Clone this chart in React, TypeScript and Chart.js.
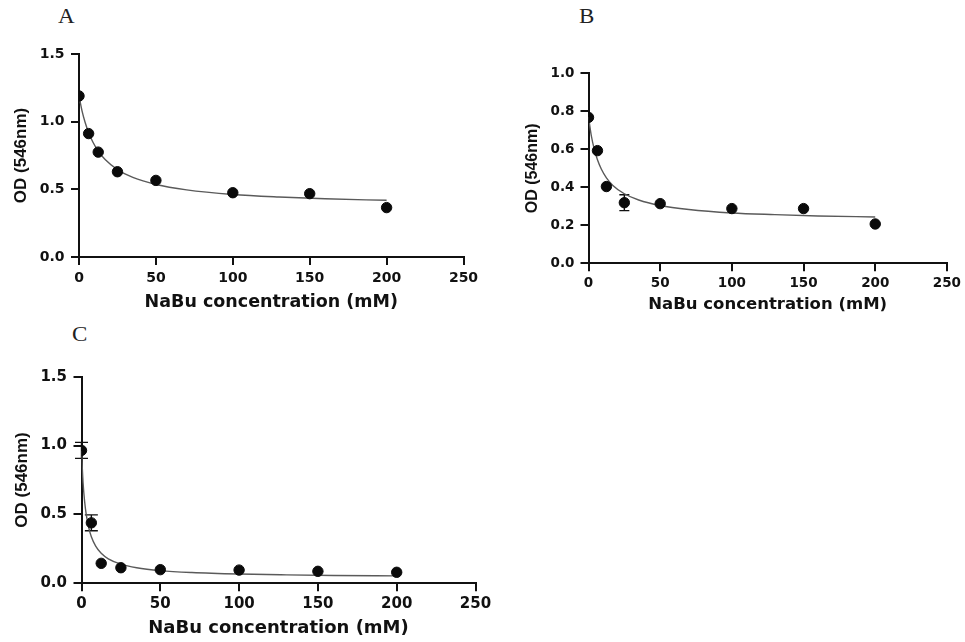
import React, { useEffect, useRef } from "react";
import { Chart, registerables } from "chart.js";

Chart.register(...registerables);

// Sodium butyrate concentrations (mM) tested in every assay
const concentrations = [0, 6.25, 12.5, 25, 50, 100, 150, 200];

// Mean optical density at 546 nm
const odA = [1.19, 0.912, 0.775, 0.63, 0.566, 0.475, 0.468, 0.365];
const odB = [0.768, 0.593, 0.404, 0.319, 0.314, 0.288, 0.288, 0.207];
const odC = [0.965, 0.439, 0.145, 0.113, 0.099, 0.096, 0.087, 0.08];

// Standard deviation (0 = bar hidden behind the marker)
const errA = [0, 0, 0, 0, 0, 0, 0, 0];
const errB = [0, 0, 0, 0.042, 0, 0, 0, 0];
const errC = [0.058, 0.058, 0, 0, 0, 0, 0, 0];

// Non-linear fit curves
const fitXAB = [0, 2, 4, 6.25, 9, 12.5, 17, 25, 35, 50, 70, 100, 130, 160, 200];
const fitA = [1.19, 1.078, 0.994, 0.92, 0.85, 0.783, 0.721, 0.646, 0.588, 0.536, 0.496, 0.462, 0.443, 0.43, 0.419];
const fitB = [0.77, 0.67, 0.601, 0.545, 0.495, 0.45, 0.41, 0.366, 0.333, 0.304, 0.283, 0.265, 0.256, 0.249, 0.244];
const fitXC = [0, 1, 2, 3, 4.5, 6.25, 9, 12.5, 17, 25, 35, 50, 70, 100, 130, 160, 200];
const fitC = [0.96, 0.73, 0.592, 0.5, 0.408, 0.338, 0.27, 0.218, 0.178, 0.139, 0.113, 0.092, 0.078, 0.067, 0.061, 0.057, 0.054];

// Axis ticks
const xTicks = [0, 50, 100, 150, 200, 250];
const yTicksAC = [0, 0.5, 1.0, 1.5];
const yTicksB = [0, 0.2, 0.4, 0.6, 0.8, 1.0];

const xTitle = "NaBu concentration (mM)";
const yTitle = "OD (546nm)";

type Panel = {
  letter: string;
  od: number[];
  err: number[];
  fitX: number[];
  fitY: number[];
  yTicks: number[];
  box: { left: number; top: number; width: number; height: number };
  pad: { top: number; right: number };
  yAxisWidth: number;
  xAxisHeight: number;
  tickSize: number;
  xTitleSize: number;
  yTitleSize: number;
  yTitlePad: number;
  xTitlePad: number;
  xTickPad: number;
  yTickPad: number;
  cap: number;
  letterPos: { left: number; top: number };
};

const panels: Panel[] = [
  {
    letter: "A",
    od: odA,
    err: errA,
    fitX: fitXAB,
    fitY: fitA,
    yTicks: yTicksAC,
    box: { left: 0, top: 30, width: 490, height: 290 },
    pad: { top: 24, right: 26.5 },
    yAxisWidth: 79,
    xAxisHeight: 63,
    tickSize: 14,
    xTitleSize: 17.5,
    yTitleSize: 17,
    yTitlePad: 11,
    xTitlePad: 7.5,
    xTickPad: 5,
    yTickPad: 6.5,
    cap: 10,
    letterPos: { left: 58, top: 6.4 },
  },
  {
    letter: "B",
    od: odB,
    err: errB,
    fitX: fitXAB,
    fitY: fitB,
    yTicks: yTicksB,
    box: { left: 490, top: 40, width: 475, height: 280 },
    pad: { top: 33.3, right: 17.5 },
    yAxisWidth: 98.5,
    xAxisHeight: 56.7,
    tickSize: 13.5,
    xTitleSize: 16.5,
    yTitleSize: 16,
    yTitlePad: 33.4,
    xTitlePad: 5.1,
    xTickPad: 4,
    yTickPad: 6,
    cap: 10,
    letterPos: { left: 579, top: 6.4 },
  },
  {
    letter: "C",
    od: odC,
    err: errC,
    fitX: fitXC,
    fitY: fitC,
    yTicks: yTicksAC,
    box: { left: 0, top: 350, width: 500, height: 292 },
    pad: { top: 26.7, right: 24.5 },
    yAxisWidth: 81.5,
    xAxisHeight: 58.7,
    tickSize: 15,
    xTitleSize: 18,
    yTitleSize: 17,
    yTitlePad: 12.3,
    xTitlePad: 3.2,
    xTickPad: 4,
    yTickPad: 6.5,
    cap: 13,
    letterPos: { left: 72, top: 324.4 },
  },
];

// Draws vertical error bars with caps from the dataset values
const errorBars = {
  id: "errorBars",
  beforeDatasetsDraw(chart: any, _args: any, opts: any) {
    const { ctx, scales } = chart;
    const xs: number[] = opts.xs || [];
    const ys: number[] = opts.ys || [];
    const es: number[] = opts.errors || [];
    const half = (opts.cap || 10) / 2;
    ctx.save();
    ctx.strokeStyle = "#111";
    ctx.lineWidth = 1.4;
    xs.forEach((xv, i) => {
      const e = es[i];
      if (!e) return;
      const px = scales.x.getPixelForValue(xv);
      const top = scales.y.getPixelForValue(ys[i] + e);
      const bot = scales.y.getPixelForValue(ys[i] - e);
      ctx.beginPath();
      ctx.moveTo(px, top);
      ctx.lineTo(px, bot);
      ctx.moveTo(px - half, top);
      ctx.lineTo(px + half, top);
      ctx.moveTo(px - half, bot);
      ctx.lineTo(px + half, bot);
      ctx.stroke();
    });
    ctx.restore();
  },
};

function PanelChart({ p }: { p: Panel }) {
  const ref = useRef<HTMLCanvasElement | null>(null);

  useEffect(() => {
    if (!ref.current) return;
    const axisColor = "#111";
    const tickFont = { family: "DejaVu Sans", weight: "bold" as const, size: p.tickSize };
    const chart = new Chart(ref.current, {
      type: "scatter",
      data: {
        datasets: [
          {
            type: "line",
            data: p.fitX.map((x, i) => ({ x, y: p.fitY[i] })),
            borderColor: "#5a5a5a",
            borderWidth: 1.4,
            pointRadius: 0,
            cubicInterpolationMode: "monotone",
            fill: false,
            order: 2,
          } as any,
          {
            data: concentrations.map((x, i) => ({ x, y: p.od[i] })),
            backgroundColor: "#0a0a0a",
            borderColor: "#0a0a0a",
            pointRadius: 5.2,
            pointHoverRadius: 5.2,
            showLine: false,
            order: 1,
          },
        ],
      },
      options: {
        responsive: false,
        animation: false,
        events: [],
        layout: { padding: { top: p.pad.top, right: p.pad.right, bottom: 0, left: 0 } },
        plugins: {
          legend: { display: false },
          tooltip: { enabled: false },
          errorBars: { xs: concentrations, ys: p.od, errors: p.err, cap: p.cap },
        } as any,
        scales: {
          x: {
            type: "linear",
            min: xTicks[0],
            max: xTicks[xTicks.length - 1],
            afterBuildTicks: (s: any) => {
              s.ticks = xTicks.map((v) => ({ value: v }));
            },
            afterFit: (s: any) => {
              s.height = p.xAxisHeight;
            },
            grid: {
              display: true,
              drawOnChartArea: false,
              drawTicks: true,
              tickLength: 8,
              color: axisColor,
              lineWidth: 2,
            },
            border: { display: true, color: axisColor, width: 2 },
            ticks: {
              font: tickFont,
              color: axisColor,
              padding: p.xTickPad,
              maxRotation: 0,
              autoSkip: false,
              callback: (v: any) => String(v),
            },
            title: {
              display: true,
              text: xTitle,
              color: axisColor,
              font: { family: "DejaVu Sans", weight: "bold", size: p.xTitleSize },
              padding: { top: 0, bottom: p.xTitlePad },
            },
          },
          y: {
            type: "linear",
            min: p.yTicks[0],
            max: p.yTicks[p.yTicks.length - 1],
            afterBuildTicks: (s: any) => {
              s.ticks = p.yTicks.map((v) => ({ value: v }));
            },
            afterFit: (s: any) => {
              s.width = p.yAxisWidth;
            },
            grid: {
              display: true,
              drawOnChartArea: false,
              drawTicks: true,
              tickLength: 8,
              color: axisColor,
              lineWidth: 2,
            },
            border: { display: true, color: axisColor, width: 2 },
            ticks: {
              font: tickFont,
              color: axisColor,
              padding: p.yTickPad,
              autoSkip: false,
              callback: (v: any) => Number(v).toFixed(1),
            },
            title: {
              display: true,
              text: yTitle,
              color: axisColor,
              font: { family: "Liberation Sans", weight: "bold", size: p.yTitleSize },
              padding: { top: p.yTitlePad, bottom: 0 },
            },
          },
        },
      },
      plugins: [errorBars],
    });
    return () => chart.destroy();
  }, [p]);

  return (
    <canvas
      ref={ref}
      width={p.box.width}
      height={p.box.height}
      style={{
        position: "absolute",
        left: p.box.left,
        top: p.box.top,
        width: p.box.width,
        height: p.box.height,
      }}
    />
  );
}

export default function App() {
  return (
    <div
      style={{
        position: "absolute",
        left: 0,
        top: 0,
        width: 965,
        height: 642,
        background: "#ffffff",
        overflow: "hidden",
      }}
    >
      {panels.map((p) => (
        <React.Fragment key={p.letter}>
          <PanelChart p={p} />
          <div
            style={{
              position: "absolute",
              left: p.letterPos.left,
              top: p.letterPos.top,
              fontFamily: "'Liberation Serif', 'DejaVu Serif', serif",
              fontSize: 20,
              lineHeight: "20px",
              color: "#222",
              transform: "scaleX(1.15)",
              transformOrigin: "left top",
            }}
          >
            {p.letter}
          </div>
        </React.Fragment>
      ))}
    </div>
  );
}
